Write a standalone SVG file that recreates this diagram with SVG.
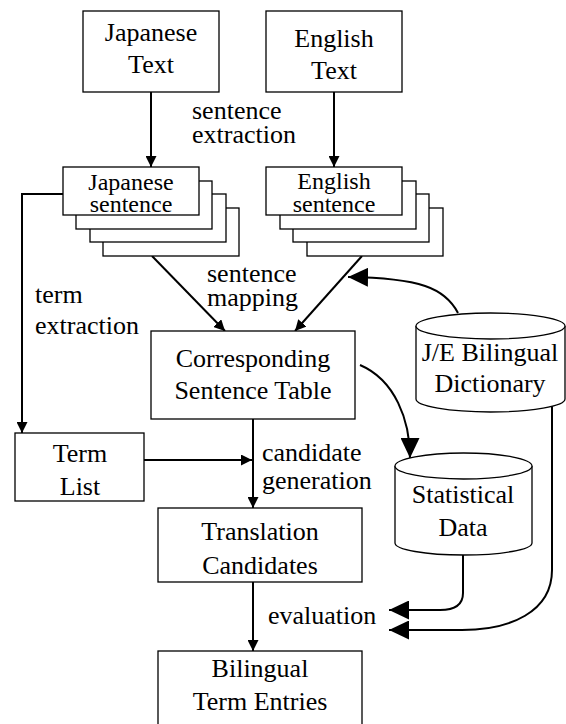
<svg xmlns="http://www.w3.org/2000/svg" width="566" height="724" viewBox="0 0 566 724">
<style>
  .box { fill: #fff; stroke: #000; stroke-width: 1.3; }
  .cyl { fill: #fff; stroke: #000; stroke-width: 1.3; }
  .t { font-family: 'Liberation Serif', 'Times New Roman', Tinos, 'Nimbus Roman', FreeSerif, 'DejaVu Serif', serif; font-size: 26px; fill: #000; }
  .s { font-size: 24px; }
  .c { text-anchor: middle; }
  .ln { fill: none; stroke: #000; stroke-width: 2; }
</style>
<defs>
  <marker id="sa" viewBox="0 0 11 11" refX="11" refY="5.5" markerWidth="11" markerHeight="11" markerUnits="userSpaceOnUse" orient="auto">
    <path d="M0,0 L11,5.5 L0,11 Z" fill="#000"/>
  </marker>
  <marker id="ba" viewBox="0 0 20 19" refX="20" refY="9.5" markerWidth="20" markerHeight="19" markerUnits="userSpaceOnUse" orient="auto">
    <path d="M0,0 L20,9.5 L0,19 Z" fill="#000"/>
  </marker>
</defs>
<rect width="566" height="724" fill="#fff"/>

<g id="connectors">
  <line class="ln" x1="151" y1="92" x2="151" y2="167" marker-end="url(#sa)"/>
  <line class="ln" x1="334" y1="92" x2="334" y2="167" marker-end="url(#sa)"/>
  <polyline class="ln" points="63,194 22,194 22,433" marker-end="url(#sa)"/>
  <line class="ln" x1="152" y1="256" x2="225" y2="331" marker-end="url(#sa)"/>
  <line class="ln" x1="362" y1="256" x2="295" y2="331" marker-end="url(#sa)"/>
  <path class="ln" d="M458,313 C445,288 420,278 348,277" marker-end="url(#ba)"/>
  <path class="ln" d="M360,365 C395,380 410,420 410,458" marker-end="url(#ba)"/>
  <line class="ln" x1="144" y1="460" x2="252" y2="460" marker-end="url(#sa)"/>
  <line class="ln" x1="253" y1="419" x2="253" y2="508" marker-end="url(#sa)"/>
  <line class="ln" x1="253" y1="582" x2="253" y2="651" marker-end="url(#sa)"/>
  <path class="ln" d="M463,555 L463,593 Q463,610 440,610 L389,610" marker-end="url(#ba)"/>
  <path class="ln" d="M552,405 L552,570 C552,612 510,630 462,630 L389,630" marker-end="url(#ba)"/>
</g>

<g id="japanese-text">
  <rect class="box" x="83" y="11" width="136" height="81"/>
  <text class="t c" x="151" y="41">Japanese</text>
  <text class="t c" x="151" y="73">Text</text>
</g>

<g id="english-text">
  <rect class="box" x="266" y="11" width="136" height="81"/>
  <text class="t c" x="334" y="47">English</text>
  <text class="t c" x="334" y="79">Text</text>
</g>

<g id="label-sentence-extraction">
  <text class="t" x="192" y="119">sentence</text>
  <text class="t" x="192" y="143">extraction</text>
</g>

<g id="japanese-sentence">
  <rect class="box" x="103" y="208" width="136" height="48"/>
  <rect class="box" x="90" y="194" width="136" height="48"/>
  <rect class="box" x="76" y="181" width="136" height="48"/>
  <rect class="box" x="63" y="167" width="136" height="48"/>
  <text class="t s c" x="131" y="190">Japanese</text>
  <text class="t s c" x="131" y="212">sentence</text>
</g>

<g id="english-sentence">
  <rect class="box" x="307" y="208" width="136" height="48"/>
  <rect class="box" x="293" y="194" width="136" height="48"/>
  <rect class="box" x="280" y="181" width="136" height="48"/>
  <rect class="box" x="266" y="167" width="136" height="48"/>
  <text class="t s c" x="334" y="189">English</text>
  <text class="t s c" x="334" y="212">sentence</text>
</g>

<g id="label-term-extraction">
  <text class="t" x="35" y="303">term</text>
  <text class="t" x="35" y="334">extraction</text>
</g>

<g id="label-sentence-mapping">
  <text class="t" x="207" y="282">sentence</text>
  <text class="t" x="207" y="306">mapping</text>
</g>

<g id="corresponding-sentence-table">
  <rect class="box" x="151" y="331" width="204" height="88"/>
  <text class="t c" x="253" y="367">Corresponding</text>
  <text class="t c" x="253" y="399">Sentence Table</text>
</g>

<g id="je-bilingual-dictionary">
  <path class="cyl" d="M416,326 A74.5,13 0 0 1 565,326 L565,399 A74.5,13 0 0 1 416,399 Z"/>
  <path class="cyl" d="M416,326 A74.5,13 0 0 0 565,326" fill="none"/>
  <text class="t c" x="490" y="361">J/E Bilingual</text>
  <text class="t c" x="490" y="392">Dictionary</text>
</g>

<g id="term-list">
  <rect class="box" x="15" y="433" width="129" height="68"/>
  <text class="t c" x="80" y="462">Term</text>
  <text class="t c" x="80" y="495">List</text>
</g>

<g id="label-candidate-generation">
  <text class="t" x="262" y="461">candidate</text>
  <text class="t" x="262" y="489">generation</text>
</g>

<g id="statistical-data">
  <path class="cyl" d="M395,466 A68.5,13 0 0 1 532,466 L532,543 A68.5,12 0 0 1 395,543 Z"/>
  <path class="cyl" d="M395,466 A68.5,13 0 0 0 532,466" fill="none"/>
  <text class="t c" x="463" y="503">Statistical</text>
  <text class="t c" x="463" y="536">Data</text>
</g>

<g id="translation-candidates">
  <rect class="box" x="158" y="508" width="204" height="74"/>
  <text class="t c" x="260" y="540">Translation</text>
  <text class="t c" x="260" y="574">Candidates</text>
</g>

<g id="label-evaluation">
  <text class="t" x="268" y="624">evaluation</text>
</g>

<g id="bilingual-term-entries">
  <rect class="box" x="158" y="651" width="204" height="80"/>
  <text class="t c" x="260" y="677">Bilingual</text>
  <text class="t c" x="260" y="710">Term Entries</text>
</g>
</svg>
